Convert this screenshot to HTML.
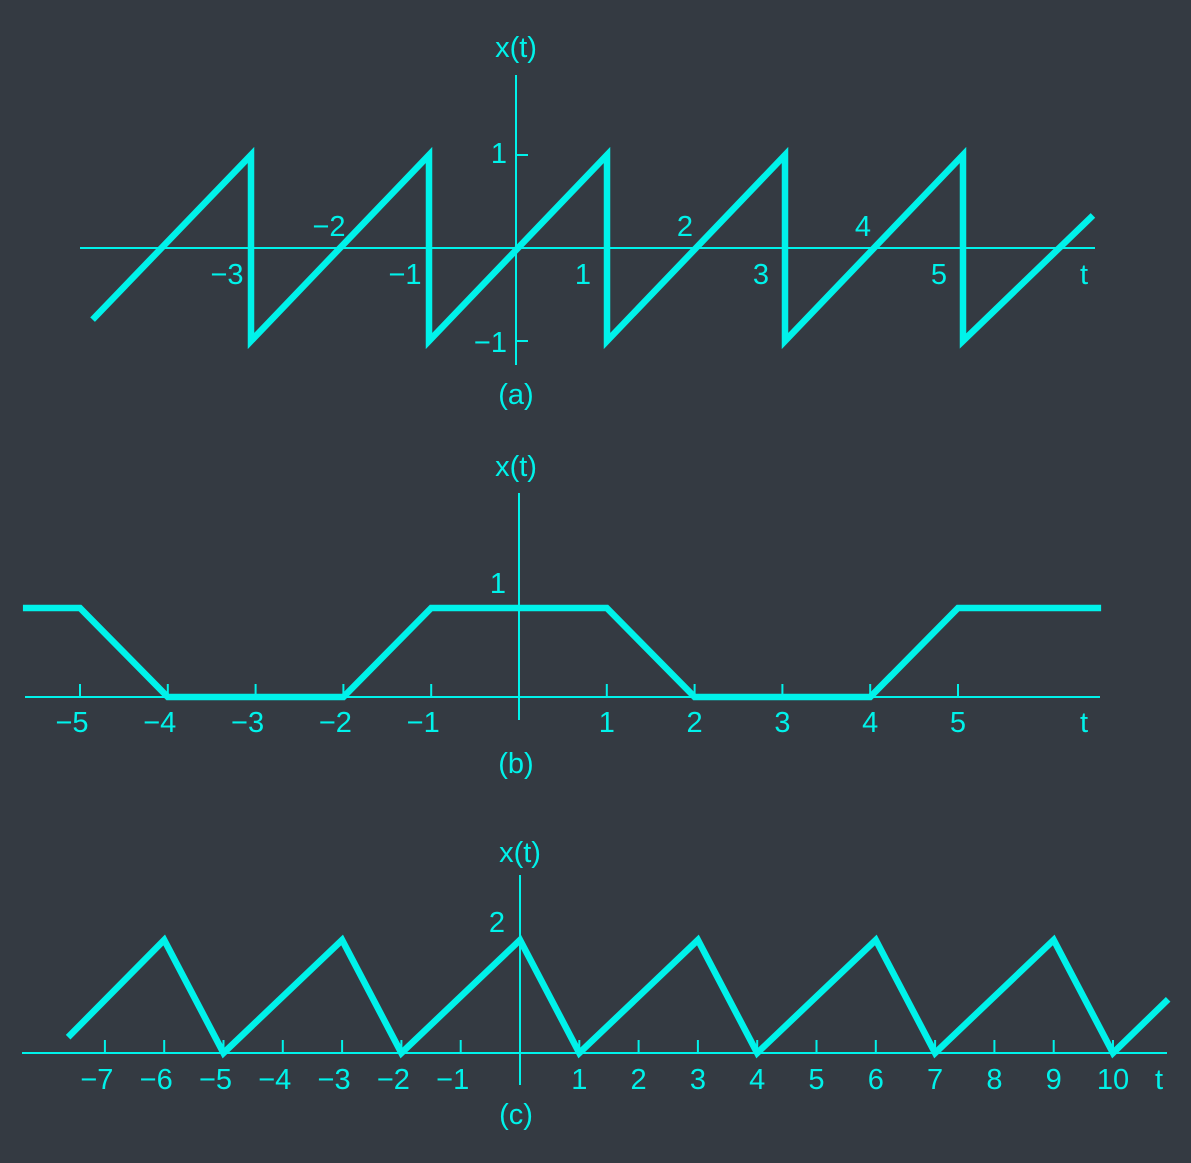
<!DOCTYPE html>
<html><head><meta charset="utf-8"><style>
body{margin:0;background:#343a42;}
svg{display:block}
text{font-family:"Liberation Sans",sans-serif;font-size:29px;fill:#00f2ea;}
</style></head><body>
<svg id="chart" width="1191" height="1163" viewBox="0 0 1191 1163">
<rect width="1191" height="1163" fill="#343a42"/>
</svg>
<script>
// Panel (a) sawtooth
const aT=[-4.78,-3,-3,-1,-1,1,1,3,3,5,5,6.46];
const aX=[-0.77,1,-1,1,-1,1,-1,1,-1,1,-1,0.35];
const aTickLabels=["−3","−2","−1","1","2","3","4","5"];
const aTickVals=[-3,-2,-1,1,2,3,4,5];
// Panel (b) trapezoid
const bT=[-5.65,-5,-4,-2,-1,1,2,4,5,6.63];
const bX=[1,1,0,0,1,1,0,0,1,1];
const bTickVals=[-5,-4,-3,-2,-1,1,2,3,4,5];
const bTickLabels=["−5","−4","−3","−2","−1","1","2","3","4","5"];
// Panel (c) triangle
const cT=[-7.62,-6,-5,-3,-2,0,1,3,4,6,7,9,10,10.93];
const cX=[0.28,2,0,2,0,2,0,2,0,2,0,2,0,0.95];
const cTickVals=[-7,-6,-5,-4,-3,-2,-1,1,2,3,4,5,6,7,8,9,10];
const cTickLabels=["−7","−6","−5","−4","−3","−2","−1","1","2","3","4","5","6","7","8","9","10"];

const C="#00f2ea";
const svg=document.getElementById('chart');
const NS="http://www.w3.org/2000/svg";
function el(tag,attrs,name){const e=document.createElementNS(NS,tag);for(const k in attrs)e.setAttribute(k,attrs[k]);


svg.appendChild(e);return e;}
function txt(x,y,s,name,anchor){const e=el('text',{x:x,y:y,'text-anchor':anchor||'middle'},name);e.textContent=s;return e;}
function poly(T,X,sx,sy,name){el('polyline',{points:T.map((t,i)=>sx(t)+','+sy(X[i])).join(' '),fill:'none',stroke:C,'stroke-width':6.5,'stroke-linejoin':'miter'},name);}

// (a)
{const sx=t=>518+t*89, sy=v=>248-v*93;
el('line',{x1:80,y1:sy(0),x2:1095,y2:sy(0),stroke:C,'stroke-width':2},'a-x-axis');
el('line',{x1:516,y1:75,x2:516,y2:365,stroke:C,'stroke-width':2},'a-y-axis');
el('line',{x1:516,y1:sy(1),x2:528,y2:sy(1),stroke:C,'stroke-width':2},'a-y-tick-1');
el('line',{x1:516,y1:sy(-1),x2:528,y2:sy(-1),stroke:C,'stroke-width':2},'a-y-tick-neg1');
txt(507,163,"1",'a-y-label-1','end');txt(507,352,"−1",'a-y-label-neg1','end');
aTickVals.forEach((v,i)=>{const even=Math.abs(v)%2===0;txt(sx(v)-(even?11:24),even?236:284,aTickLabels[i],'a-x-label');});
txt(1084,284,"t",'a-t-label');
txt(516,57,"x(t)",'a-y-title');txt(516,404,"(a)",'a-caption');
poly(aT,aX,sx,sy,'a-sawtooth');}

// (b)
{const sx=t=>519+t*87.8, sy=v=>697-v*89;
el('line',{x1:25,y1:697,x2:1100,y2:697,stroke:C,'stroke-width':2},'b-x-axis');
el('line',{x1:519,y1:493,x2:519,y2:720,stroke:C,'stroke-width':2},'b-y-axis');
bTickVals.forEach((v,i)=>{el('line',{x1:sx(v),y1:684,x2:sx(v),y2:697,stroke:C,'stroke-width':2},'b-x-tick');txt(sx(v)-(v<0?8:0),732,bTickLabels[i],'b-x-label');});
txt(498,593,"1",'b-y-label-1');txt(1084,732,"t",'b-t-label');
txt(516,476,"x(t)",'b-y-title');txt(516,773,"(b)",'b-caption');
poly(bT,bX,sx,sy,'b-trapezoid');}

// (c)
{const sx=t=>520+t*59.3, sy=v=>1053-v*56.5;
el('line',{x1:22,y1:1053,x2:1167,y2:1053,stroke:C,'stroke-width':2},'c-x-axis');
el('line',{x1:520,y1:875,x2:520,y2:1085,stroke:C,'stroke-width':2},'c-y-axis');
cTickVals.forEach((v,i)=>{el('line',{x1:sx(v),y1:1040,x2:sx(v),y2:1053,stroke:C,'stroke-width':2},'c-x-tick');txt(sx(v)-(v<0?8:0),1089,cTickLabels[i],'c-x-label');});
txt(497,932,"2",'c-y-label-2');txt(1159,1089,"t",'c-t-label');
txt(520,862,"x(t)",'c-y-title');txt(516,1124,"(c)",'c-caption');
poly(cT,cX,sx,sy,'c-triangle');}
</script>
</body></html>
